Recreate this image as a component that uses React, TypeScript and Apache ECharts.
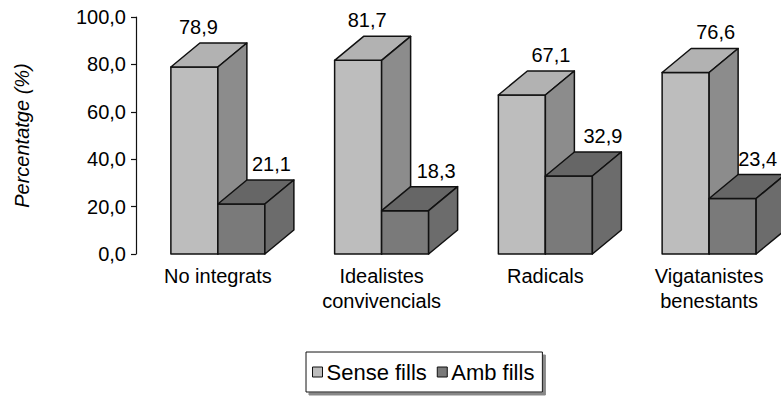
import React, { useEffect, useRef } from "react";
import * as echarts from "echarts";

const CATEGORIES = ["No integrats", "Idealistes\nconvivencials", "Radicals", "Vigatanistes\nbenestants"];
const SENSE_FILLS = [78.9, 81.7, 67.1, 76.6];
const AMB_FILLS = [21.1, 18.3, 32.9, 23.4];
const SERIES_NAMES = ["Sense fills", "Amb fills"];

const FONT = "'Liberation Sans', Arial, sans-serif";
const BAR_W = 47;
const DX = 29;
const DY = -24;
const SENSE_LABEL_SHIFT = [4, 9, 29, 30];
const AMB_LABEL_SHIFT = [30, 31, 34, 25];

const fmt = (v: number) => v.toFixed(1).replace(".", ",");

function makeRender(side: "left" | "right", colors: { front: string; top: string; side: string }) {
  return (params: any, api: any) => {
    const idx = api.value(0);
    const v = api.value(1);
    const base = api.coord([idx, 0]);
    const top = api.coord([idx, v]);
    const cx = base[0];
    const x0 = side === "left" ? cx - BAR_W : cx;
    const x1 = side === "left" ? cx : cx + BAR_W;
    const yb = base[1];
    const yt = top[1];
    const edge = { stroke: "#111", lineWidth: 1.5, lineJoin: "round" };
    const shift = side === "left" ? SENSE_LABEL_SHIFT[idx] : AMB_LABEL_SHIFT[idx];
    return {
      type: "group",
      children: [
        {
          type: "polygon",
          shape: { points: [[x0, yt], [x1, yt], [x1, yb], [x0, yb]] },
          style: { fill: colors.front, ...edge },
        },
        {
          type: "polygon",
          shape: { points: [[x0, yt], [x1, yt], [x1 + DX, yt + DY], [x0 + DX, yt + DY]] },
          style: { fill: colors.top, ...edge },
        },
        {
          type: "polygon",
          shape: { points: [[x1, yt], [x1 + DX, yt + DY], [x1 + DX, yb + DY], [x1, yb]] },
          style: { fill: colors.side, ...edge },
        },
        {
          type: "text",
          style: {
            text: fmt(v),
            x: (x0 + x1) / 2 + shift,
            y: yt + DY - 6,
            align: "center",
            verticalAlign: "bottom",
            fill: "#000",
            fontSize: 20,
            fontFamily: FONT,
          },
        },
      ],
    };
  };
}

export default function App() {
  const ref = useRef<HTMLDivElement>(null);
  useEffect(() => {
    if (!ref.current) return;
    const chart = echarts.init(ref.current, null, { renderer: "svg" });
    chart.setOption({
      animation: false,
      backgroundColor: "#fff",
      textStyle: { fontFamily: FONT },
      grid: { left: 136, top: 17, width: 655, height: 237, outerBoundsMode: "none", containLabel: false },
      legend: {
        data: SERIES_NAMES,
        left: 306,
        top: 352,
        orient: "horizontal",
        icon: "rect",
        itemWidth: 10,
        itemHeight: 10,
        itemGap: 10,
        padding: [9, 8, 9, 6],
        backgroundColor: "#fff",
        borderColor: "#111",
        borderWidth: 1,
        borderRadius: 0,
        shadowColor: "#888",
        shadowBlur: 0,
        shadowOffsetX: 3,
        shadowOffsetY: 3,
        selectedMode: false,
        itemStyle: { borderColor: "#111", borderWidth: 1 },
        textStyle: { fontSize: 22, color: "#000", fontFamily: FONT, padding: [0, 0, 0, -1] },
      },
      xAxis: {
        type: "category",
        data: CATEGORIES,
        axisLine: { show: false },
        axisTick: { show: false },
        axisLabel: {
          interval: 0,
          margin: 9,
          fontSize: 20,
          lineHeight: 25,
          color: "#000",
          fontFamily: FONT,
        },
      },
      yAxis: {
        type: "value",
        min: 0,
        max: 100,
        interval: 20,
        name: "Percentatge (%)",
        nameLocation: "middle",
        nameGap: 104,
        nameTextStyle: { fontSize: 20, fontStyle: "italic", color: "#000", fontFamily: FONT },
        axisLine: { show: true, lineStyle: { color: "#111", width: 1.2 } },
        axisTick: { show: true, length: 5, lineStyle: { color: "#111", width: 1.2 } },
        splitLine: { show: false },
        axisLabel: {
          margin: 10,
          fontSize: 20,
          color: "#000",
          fontFamily: FONT,
          formatter: (v: number) => fmt(v),
        },
      },
      series: [
        {
          name: SERIES_NAMES[0],
          type: "custom",
          z: 2,
          itemStyle: { color: "#bdbdbd" },
          encode: { x: 0, y: 1 },
          data: SENSE_FILLS.map((v, i) => [i, v]),
          renderItem: makeRender("left", { front: "#bdbdbd", top: "#b2b2b2", side: "#8c8c8c" }),
        },
        {
          name: SERIES_NAMES[1],
          type: "custom",
          z: 3,
          itemStyle: { color: "#7a7a7a" },
          encode: { x: 0, y: 1 },
          data: AMB_FILLS.map((v, i) => [i, v]),
          renderItem: makeRender("right", { front: "#7a7a7a", top: "#666666", side: "#6c6c6c" }),
        },
      ],
    });
    return () => chart.dispose();
  }, []);
  return (
    <div
      ref={ref}
      style={{ position: "absolute", left: 0, top: 0, width: 781, height: 401 }}
    />
  );
}
